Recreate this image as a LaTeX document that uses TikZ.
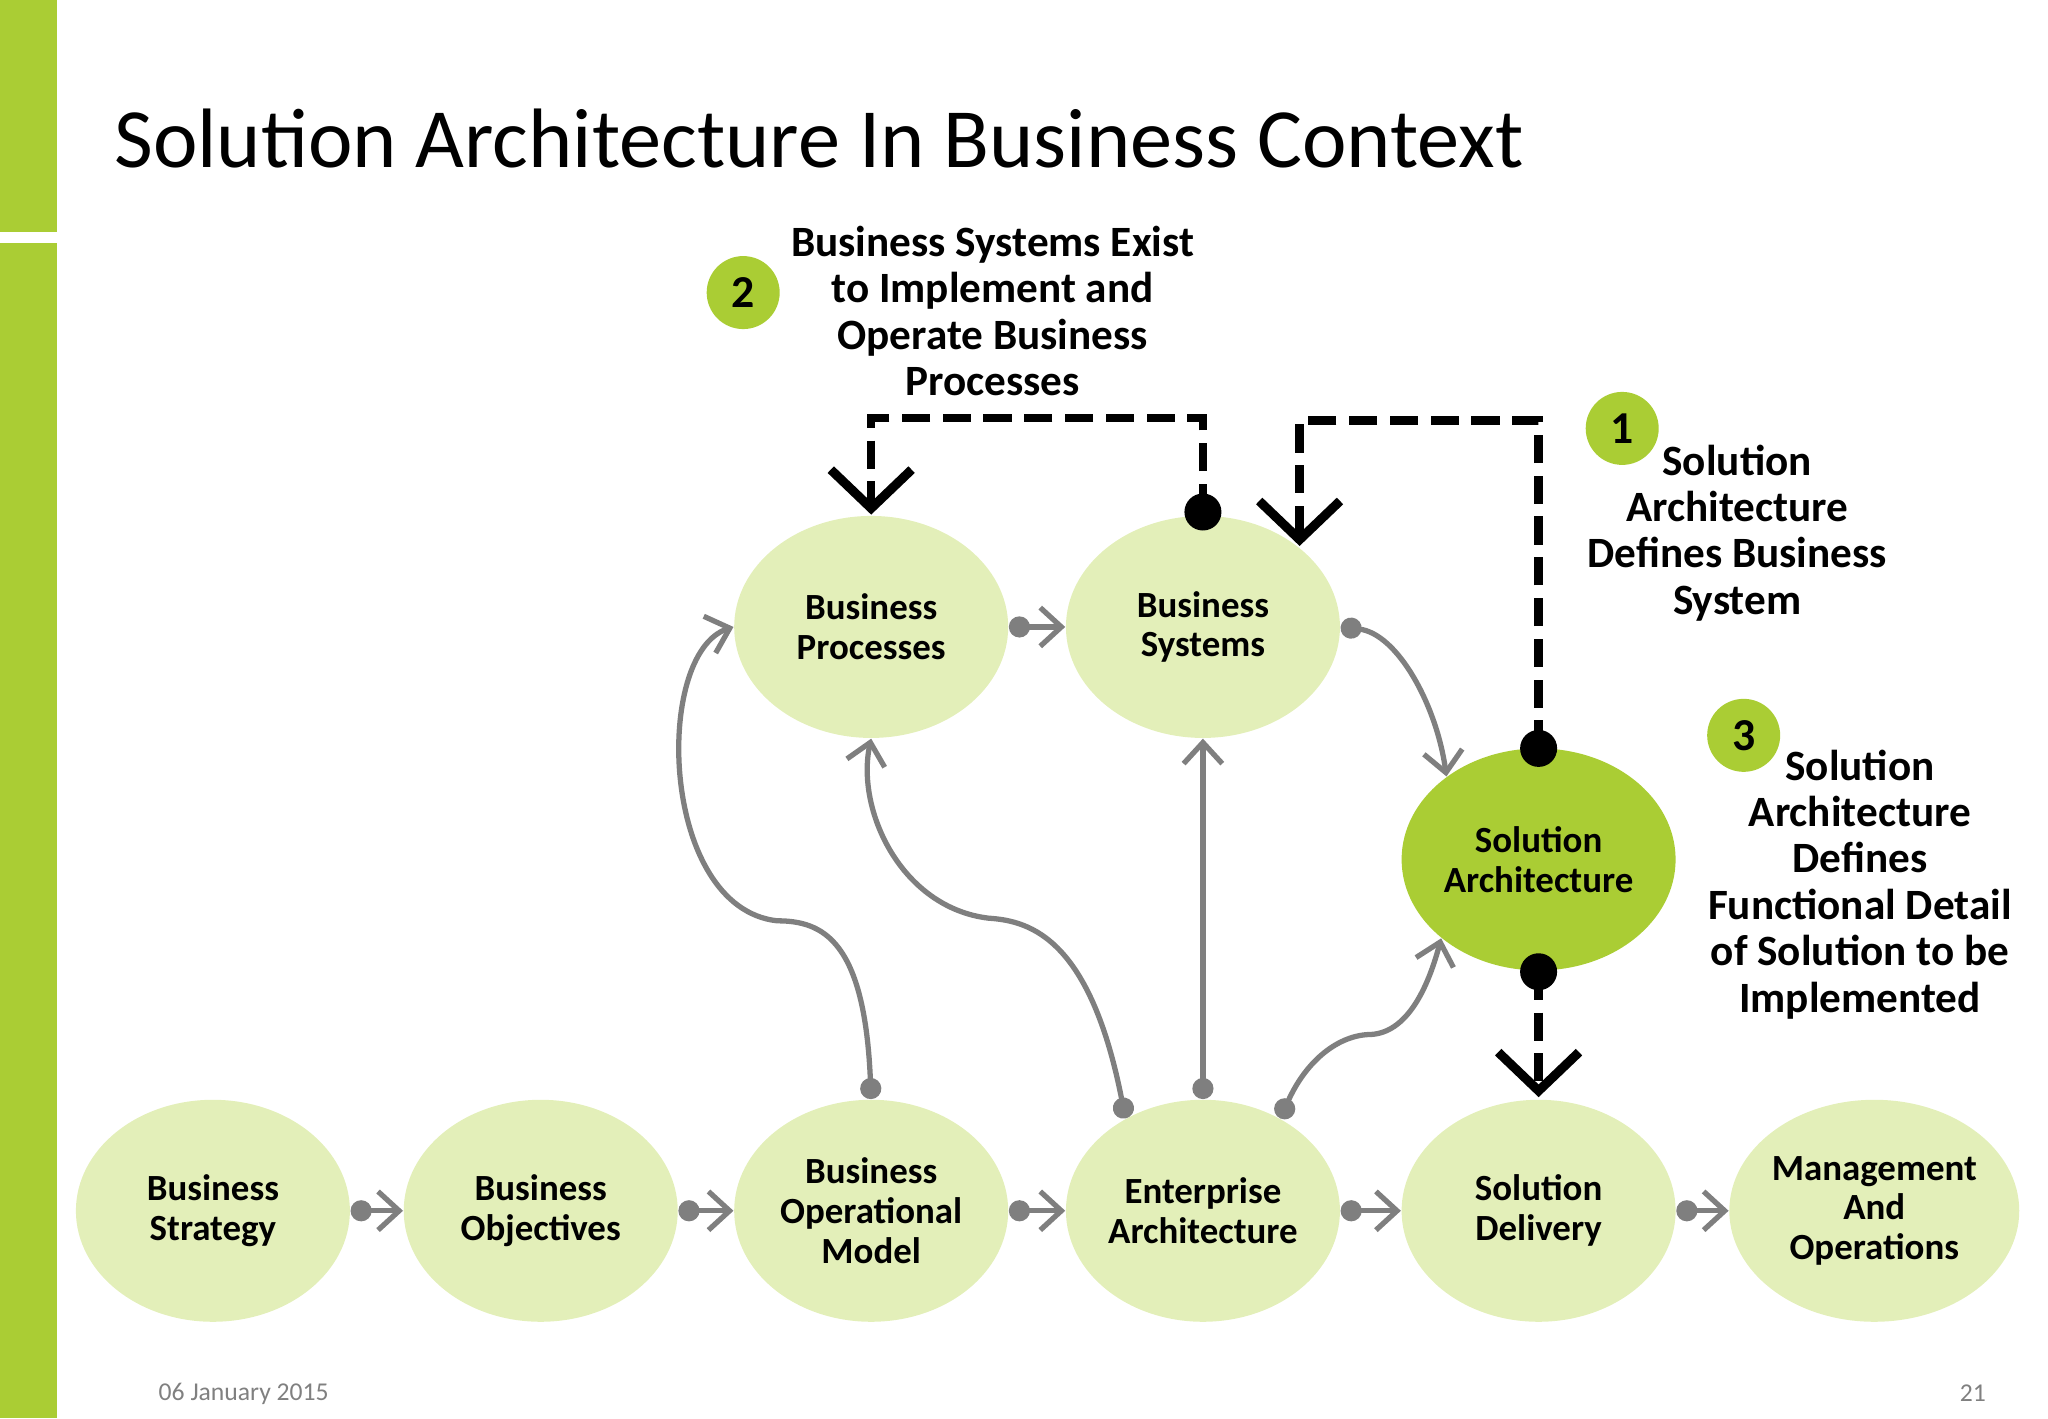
\documentclass[tikz,border=0pt]{standalone}
\usepackage{fontspec}
\setmainfont{Carlito}
\usetikzlibrary{shapes,arrows.meta,positioning}
\definecolor{lime}{HTML}{AACD34}
\definecolor{palelime}{HTML}{E3EFB9}
\definecolor{flow}{HTML}{7F7F7F}
\newcommand{\stage}[4]{\node[stage,#1] (#2) at #3 {#4};}

\begin{document}
\begin{tikzpicture}[x=0.013061cm,y=-0.013061cm,
      stage/.style={ellipse,fill=palelime,inner sep=0pt,
        minimum width=2.74cm,minimum height=2.22cm,align=center,
        font=\fontsize{10.5}{11.3}\selectfont\bfseries},
      core/.style={fill=lime},
      flowline/.style={draw=flow,line width=1.5pt,
        {Circle[length=6pt]}-{Straight Barb[length=6pt,width=11pt,line width=1.5pt]}},
      dashline/.style={line width=2.4pt,dash pattern=on 8pt off 3.6pt,
        -{Straight Barb[length=11pt,width=23pt,line width=2.6pt]}},
      bigdot/.style={circle,fill=black,inner sep=0pt,minimum size=0.37cm},
      badge/.style={circle,fill=lime,inner sep=0pt,minimum size=0.73cm,
        font=\fontsize{13}{13}\selectfont\bfseries},
      note/.style={align=center,font=\fontsize{12.3}{13.2}\selectfont\bfseries}
      ]
  \useasboundingbox (0,0) rectangle (1568,1086);
  \fill[lime] (0,0) rectangle (44,178);
  \fill[lime] (0,186) rectangle (44,1086);
  \node[anchor=west,font=\fontsize{24}{24}\selectfont] (title) at (78,106)
    {Solution Architecture In Business Context};

  % bottom row
  \stage{}{strategy}{(163,927)}{Business\\Strategy}
  \stage{}{objectives}{(414,927)}{Business\\Objectives}
  \stage{}{opmodel}{(667,927)}{Business\\Operational\\Model}
  \stage{}{enterprise}{(921,927)}{Enterprise\\Architecture}
  \stage{}{delivery}{(1178,927)}{Solution\\Delivery}
  \stage{}{operations}{(1435,927)}{Management\\And\\Operations}
  % upper stages
  \stage{}{processes}{(667,480)}{Business\\Processes}
  \stage{}{systems}{(921,480)}{Business\\Systems}
  \stage{core}{solution}{(1178,658)}{Solution\\Architecture}

  \draw[flowline] (strategy.east) -- (objectives.west);
  \draw[flowline] (objectives.east) -- (opmodel.west);
  \draw[flowline] (opmodel.east) -- (enterprise.west);
  \draw[flowline] (enterprise.east) -- (delivery.west);
  \draw[flowline] (delivery.east) -- (operations.west);
  \draw[flowline] (processes.east) -- (systems.west);
  \draw[flowline] (enterprise.north) -- (systems.south);
  \draw[flowline] (opmodel.north) .. controls (662,720) and (630,705) .. (595,705)
    .. controls (505,695) and (500,500) .. (processes.west);
  \draw[flowline] (enterprise.130) .. controls (835,720) and (790,705) .. (757,703)
    .. controls (690,695) and (655,620) .. (processes.south);
  \draw[flowline] (enterprise.50) .. controls (1000,812) and (1025,792) .. (1050,792)
    .. controls (1080,790) and (1095,750) .. (solution.219);
  \draw[flowline] (systems.east) .. controls (1070,485) and (1100,540) .. (solution.138);

  % dashed links
  \node[bigdot] (dot2) at (921,392) {};
  \node[bigdot] (dot1) at (1178,573) {};
  \node[bigdot] (dot3) at (1178,744) {};
  \coordinate (tip2) at (667,394);
  \coordinate (tip1) at (995,418);
  \coordinate (tip3) at (1178,840);
  \draw[dashline] (dot2.center) |- (794,320) -| (tip2);
  \draw[dashline] (dot1.center) |- (1090,322) -| (tip1);
  \draw[dashline] (dot3.center) -- (tip3);

  % notes
  \node[badge] (b2) at (569,224) {2};
  \node[note] (n2) at (760,238) {Business Systems Exist\\to Implement and\\Operate Business\\Processes};
  \node[badge] (b1) at (1242,328) {1};
  \node[note] (n1) at (1330,408) {Solution\\Architecture\\Defines Business\\System};
  \node[badge] (b3) at (1335,563) {3};
  \node[note] (n3) at (1424,677) {Solution\\Architecture\\Defines\\Functional Detail\\of Solution to be\\Implemented};

  \node[anchor=west,text=gray,font=\fontsize{7.3}{7.3}\selectfont] (date) at (112,1067) {06 January 2015};
  \node[anchor=east,text=gray,font=\fontsize{7.3}{7.3}\selectfont] (page) at (1530,1067) {21};
\end{tikzpicture}
\end{document}
